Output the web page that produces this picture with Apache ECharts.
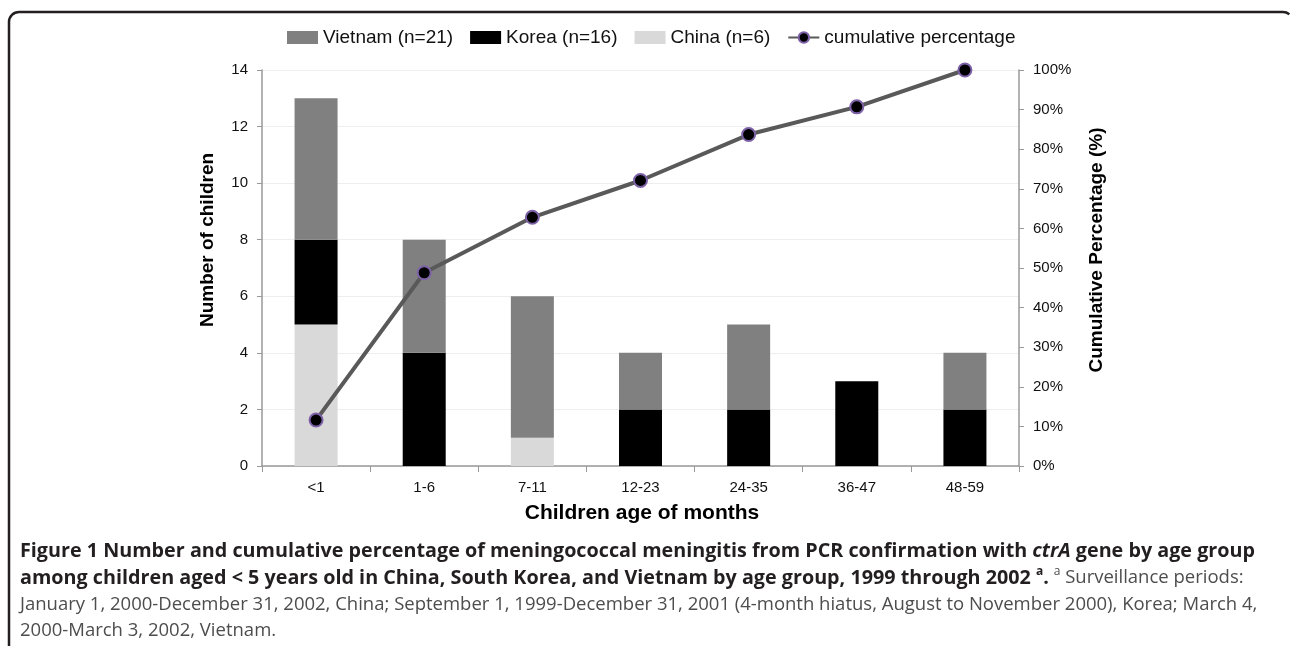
<!DOCTYPE html>
<html>
<head>
<meta charset="utf-8">
<script src="https://cdn.jsdelivr.net/npm/echarts@6/dist/echarts.min.js"></script>
<style>
html,body{margin:0;padding:0;background:#fff;}
#chart{width:1290px;height:646px;}
</style>
</head>
<body>
<div id="chart"></div>
<script>
var categories = ['<1', '1-6', '7-11', '12-23', '24-35', '36-47', '48-59'];
var vietnam = [5, 4, 5, 2, 3, 0, 2];
var korea = [3, 4, 0, 2, 2, 3, 2];
var china = [5, 0, 1, 0, 0, 0, 0];
var cumulativePct = [11.6, 48.8, 62.8, 72.1, 83.7, 90.7, 100];
var leftTicks = {min: 0, max: 14, interval: 2};
var rightTicks = {min: 0, max: 100, interval: 10};

var chart = echarts.init(document.getElementById('chart'));
var font = 'Liberation Sans, Arial, Helvetica, sans-serif';
var capFont = 'Open Sans, sans-serif';
var frameStyle = {stroke: '#231f20', lineWidth: 2.5, fill: null};
var BF = 19.75, NF = 18.5;

var option = {
  backgroundColor: '#fff',
  animation: false,
  textStyle: {fontFamily: font},
  legend: {
    left: 287, top: 28, padding: 0,
    itemWidth: 31, itemHeight: 13, itemGap: 17,
    textStyle: {fontSize: 19, color: '#111', fontFamily: font},
    data: [
      {name: 'Vietnam (n=21)', icon: 'rect'},
      {name: 'Korea (n=16)', icon: 'rect'},
      {name: 'China (n=6)', icon: 'rect'},
      {name: 'cumulative percentage'}
    ]
  },
  grid: {left: 262, right: 271, top: 70, bottom: 180, containLabel: false},
  xAxis: {
    type: 'category', data: categories,
    axisLine: {lineStyle: {color: '#999', width: 1.5}},
    axisTick: {show: true, length: 6, lineStyle: {color: '#999'}},
    axisLabel: {fontSize: 15, color: '#111', margin: 14}
  },
  yAxis: [{
    type: 'value', min: leftTicks.min, max: leftTicks.max, interval: leftTicks.interval,
    axisLine: {show: true, lineStyle: {color: '#999', width: 1.5}},
    axisTick: {show: true, length: 5, lineStyle: {color: '#999'}},
    axisLabel: {fontSize: 15, color: '#111', margin: 14},
    splitLine: {lineStyle: {color: '#eeeeee'}}
  }, {
    type: 'value', min: rightTicks.min, max: rightTicks.max, interval: rightTicks.interval,
    position: 'right',
    axisLine: {show: true, lineStyle: {color: '#999', width: 1.5}},
    axisTick: {show: true, length: 5, lineStyle: {color: '#999'}},
    axisLabel: {fontSize: 15, color: '#111', margin: 14, formatter: '{value}%'},
    splitLine: {show: false}
  }],
  series: [
    {name: 'China (n=6)', type: 'bar', stack: 'n', data: china, barWidth: 43,
      itemStyle: {color: '#d9d9d9'}},
    {name: 'Korea (n=16)', type: 'bar', stack: 'n', data: korea, barWidth: 43,
      itemStyle: {color: '#000000'}},
    {name: 'Vietnam (n=21)', type: 'bar', stack: 'n', data: vietnam, barWidth: 43,
      itemStyle: {color: '#808080'}},
    {name: 'cumulative percentage', type: 'line', yAxisIndex: 1, data: cumulativePct,
      symbol: 'circle', symbolSize: 13,
      lineStyle: {color: '#595959', width: 4},
      itemStyle: {color: '#000', borderColor: '#7e62a8', borderWidth: 2}}
  ],
  graphic: [
    {type: 'line', shape: {x1: 9, y1: 22, x2: 9, y2: 646}, style: frameStyle},
    {type: 'line', shape: {x1: 19, y1: 12, x2: 1283, y2: 12}, style: frameStyle},
    {type: 'arc', shape: {cx: 19, cy: 22, r: 10, startAngle: Math.PI, endAngle: Math.PI * 1.5}, style: frameStyle},
    {type: 'arc', shape: {cx: 1283, cy: 22, r: 10, startAngle: Math.PI * 1.5, endAngle: Math.PI * 1.72}, style: frameStyle},
    {type: 'text', x: 208, y: 240, rotation: Math.PI / 2, style: {
      text: 'Number of children', fontFamily: font, fontWeight: 'bold', fontSize: 19,
      fill: '#000', align: 'center', verticalAlign: 'middle'}},
    {type: 'text', x: 1097, y: 250, rotation: Math.PI / 2, style: {
      text: 'Cumulative Percentage (%)', fontFamily: font, fontWeight: 'bold', fontSize: 19,
      fill: '#000', align: 'center', verticalAlign: 'middle'}},
    {type: 'text', x: 642, y: 513, style: {
      text: 'Children age of months', fontFamily: font, fontWeight: 'bold', fontSize: 21,
      fill: '#000', align: 'center', verticalAlign: 'middle'}},
    {type: 'text', x: 20, y: 551, style: {
      verticalAlign: 'middle',
      text: '{b|Figure 1 Number and cumulative percentage of meningococcal meningitis from PCR confirmation with }{bi|ctrA}{b| gene by age group}',
      rich: {
        b: {fontFamily: capFont, fontWeight: 'bold', fontSize: BF, fill: '#231f20', lineHeight: 24},
        bi: {fontFamily: capFont, fontWeight: 'bold', fontStyle: 'italic', fontSize: BF, fill: '#231f20', lineHeight: 24}
      }}},
    {type: 'text', x: 20, y: 578, style: {
      verticalAlign: 'middle',
      text: '{b|among children aged < 5 years old in China, South Korea, and Vietnam by age group, 1999 through 2002 }{bs|a}{b|.}{n| }{ns|a}{n| Surveillance periods:}',
      rich: {
        b: {fontFamily: capFont, fontWeight: 'bold', fontSize: BF, fill: '#231f20', lineHeight: 24},
        bs: {fontFamily: capFont, fontWeight: 'bold', fontSize: 12, fill: '#231f20', lineHeight: 24, verticalAlign: 'top'},
        n: {fontFamily: capFont, fontSize: NF, fill: '#4d4d4d', lineHeight: 24},
        ns: {fontFamily: capFont, fontSize: 12, fill: '#4d4d4d', lineHeight: 24, verticalAlign: 'top'}
      }}},
    {type: 'text', x: 20, y: 605, style: {
      verticalAlign: 'middle',
      text: 'January 1, 2000-December 31, 2002, China; September 1, 1999-December 31, 2001 (4-month hiatus, August to November 2000), Korea; March 4,',
      fontFamily: capFont, fontSize: NF, fill: '#4d4d4d'}},
    {type: 'text', x: 20, y: 631, style: {
      verticalAlign: 'middle',
      text: '2000-March 3, 2002, Vietnam.',
      fontFamily: capFont, fontSize: NF, fill: '#4d4d4d'}}
  ]
};
chart.setOption(option);
</script>
</body>
</html>
